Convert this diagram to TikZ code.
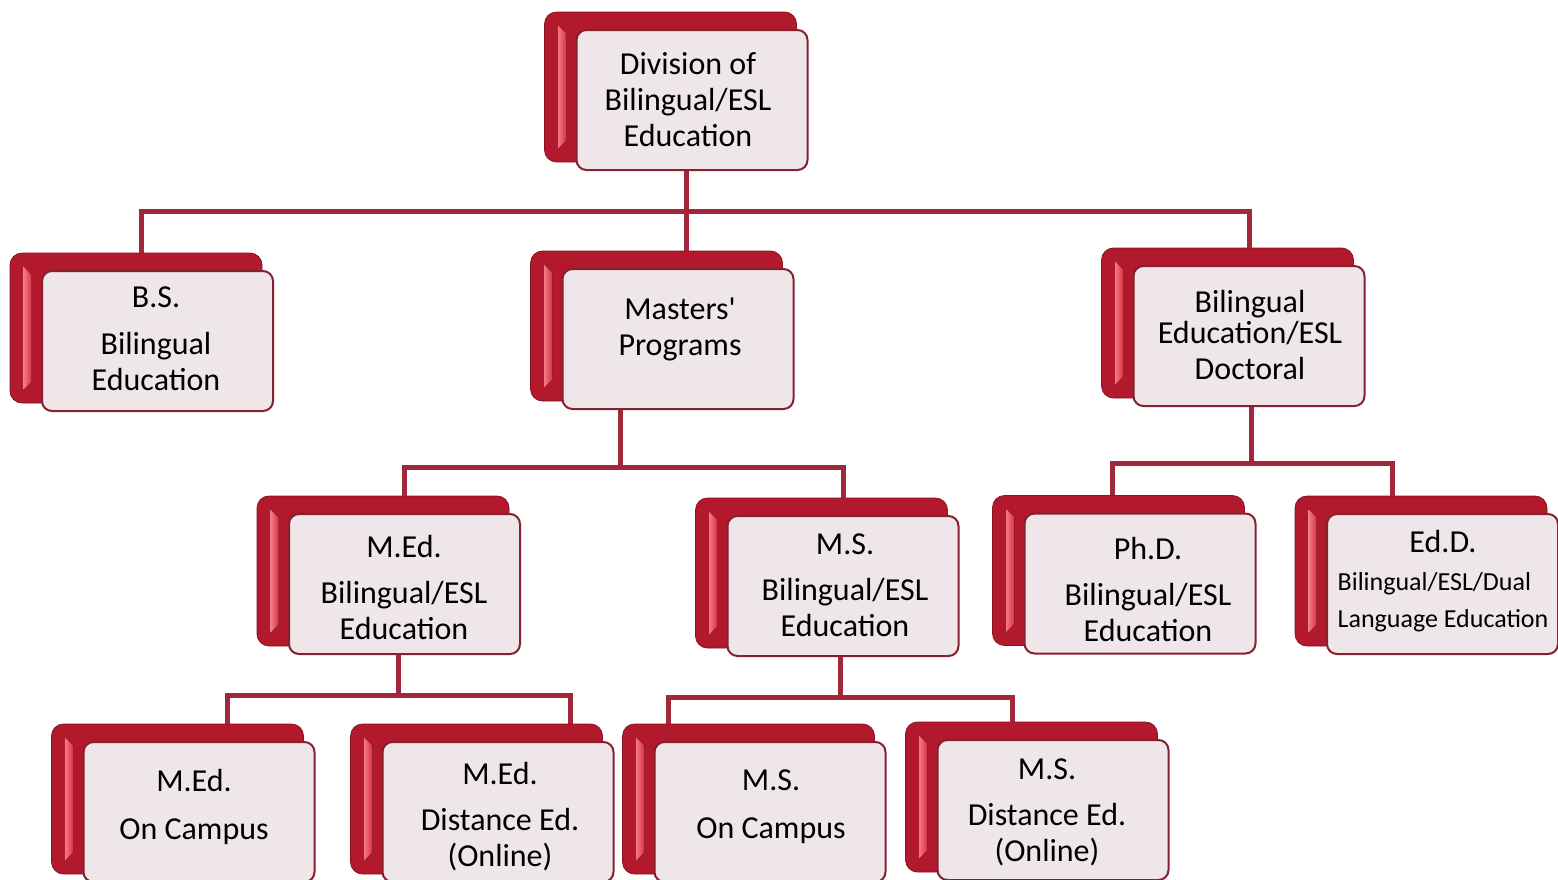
\documentclass[tikz,border=0pt]{standalone}
\usepackage{fontspec}
\setmainfont{Carlito}
\definecolor{redmain}{HTML}{B2192C}
\definecolor{reddark}{HTML}{8A1222}
\definecolor{redhi}{HTML}{F47886}
\definecolor{redmid}{HTML}{D53447}
\definecolor{paper}{HTML}{EEE6E8}
\definecolor{rim}{HTML}{85202F}
\definecolor{linkred}{HTML}{A1283B}
\tikzset{
  backbox/.style={rectangle,rounded corners=6pt,minimum width=126pt,minimum height=75pt,
                  fill=redmain,draw=reddark,line width=0.4pt},
  frontbox/.style={rectangle,rounded corners=5pt,minimum width=115.5pt,minimum height=70pt,
                   fill=paper,draw=rim,line width=1pt},
  bevel/.style={left color=redhi,right color=redmid},
  txt/.style={align=center,inner sep=0pt,yshift=-1pt,font=\fontsize{16}{18}\selectfont},
  link/.style={draw=linkred,line width=2.5pt}
}
% back box, front box and text of one programme
\newcommand{\prog}[4]{%
  \node[backbox,xshift=-10.75pt,yshift=6.5pt] (#1b) at (#2) {};
  \fill[bevel] ([shift={(14,14)}]#1b.north west) -- ([shift={(22,22)}]#1b.north west)
     -- ([shift={(22,-22)}]#1b.south west) -- ([shift={(14,-14)}]#1b.south west) -- cycle;
  \node[frontbox] (#1) at (#2) {};
  \node[txt] (#1t) at (#3) {#4};
}

\begin{document}
\begin{tikzpicture}[x=0.5pt,y=-0.5pt]
   \clip (0,0) rectangle (1558,879);
   \prog{div}{692,100}{688,98}{Division of\\Bilingual/ESL\\Education}
   \prog{bs}{157.5,341}{156,337}{B.S.\\[5.5pt]Bilingual\\Education}
   \prog{mast}{678,339}{680,327.5}{Masters\textquotesingle\\Programs}
   \prog{doc}{1249,336}{1250,333}{Bilingual\\[-2.5pt]Education/ESL\\Doctoral}
   \prog{med}{404.5,584}{404,585.5}{M.Ed.\\[5pt]Bilingual/ESL\\Education}
   \prog{ms}{843,586}{845,583}{M.S.\\[5pt]Bilingual/ESL\\Education}
   \prog{phd}{1140,583.5}{1148,587.5}{Ph.D.\\[5pt]Bilingual/ESL\\Education}
   \prog{edd}{1442.5,584}{1443,582}{Ed.D.\\[1pt]{\fontsize{13}{18.5}\selectfont
      \begin{tabular}[t]{@{}l@{}}Bilingual/ESL/Dual\\Language Education\end{tabular}}}
   \prog{medc}{199,812}{194,805}{M.Ed.\\[6pt]On Campus}
   \prog{medd}{498,812}{500,815}{M.Ed.\\[5pt]Distance Ed.\\(Online)}
   \prog{msc}{770,812}{771,805}{M.S.\\[6pt]On Campus}
   \prog{msd}{1053,810}{1047,810}{M.S.\\[5pt]Distance Ed.\\(Online)}

   % joints of the connectors
   \coordinate (busA) at (686,211);
   \coordinate (busB) at (620,467);
   \coordinate (busC) at (1251,463);
   \coordinate (busD) at (398,695);
   \coordinate (busE) at (840,697);

   \draw[link] (div.south -| busA) -- (busA) -- (busA |- mastb.north);
   \draw[link] ([xshift=2.5pt]bsb.north) |- (busA) -| (doc |- docb.north);
   \draw[link] (mast.south -| busB) -- (busB);
   \draw[link] (med |- medb.north) |- (busB) -| (ms |- msb.north);
   \draw[link] (doc.south -| busC) -- (busC);
   \draw[link] ([xshift=-3pt]phdb.north) |- (busC) -| ([xshift=-14.5pt]eddb.north);
   \draw[link] (med.south -| busD) -- (busD);
   \draw[link] ([xshift=14pt]medc.north |- medcb.north) |- (busD) -| ([xshift=36pt]medd.north |- meddb.north);
   \draw[link] (ms.south -| busE) -- (busE);
   \draw[link] ([xshift=-51pt]msc.north |- mscb.north) |- (busE) -| ([xshift=-20.5pt]msd.north |- msdb.north);
\end{tikzpicture}
\end{document}
